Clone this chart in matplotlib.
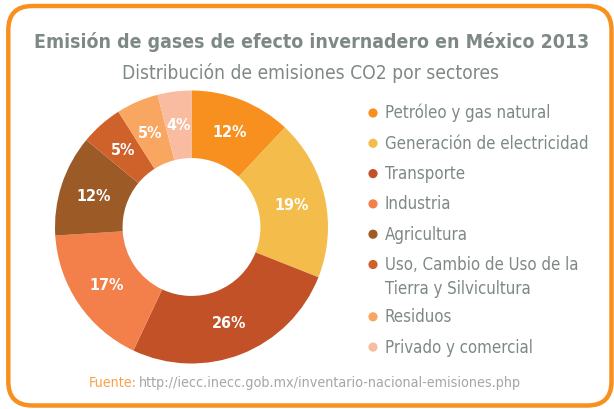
import matplotlib
matplotlib.use('Agg')
import numpy as np
import matplotlib.pyplot as plt
from matplotlib.patches import FancyBboxPatch
from matplotlib.transforms import IdentityTransform

# Datos
sectores = ['Petróleo y gas natural', 'Generación de electricidad', 'Transporte',
            'Industria', 'Agricultura', 'Uso, Cambio de Uso de la\nTierra y Silvicultura',
            'Residuos', 'Privado y comercial']
porcentajes = [12, 19, 26, 17, 12, 5, 5, 4]
colores = ['#F7901E', '#F4BC4B', '#C25127', '#F3804A', '#9C5A26', '#CF612B', '#F9A661', '#FABCA0']

titulo = 'Emisión de gases de efecto invernadero en México 2013'
subtitulo = 'Distribución de emisiones CO2 por sectores'
fuente_url = 'http://iecc.inecc.gob.mx/inventario-nacional-emisiones.php'

FONT = dict(family='DejaVu Sans', stretch='condensed')
GRIS = '#7E8984'

W, H = 614, 410
fig = plt.figure(figsize=(W / 100, H / 100), dpi=100)
renderer = fig.canvas.get_renderer()


def fit(t, ancho):
    """Ajusta el tamano de letra para que el texto mida 'ancho' pixeles."""
    w = t.get_window_extent(renderer).width
    t.set_fontsize(t.get_fontsize() * ancho / w)
    return t


# borde redondeado naranja (en pixeles, origen abajo a la izquierda)
x0, y0, x1, y1, rad = 8.3, 3.5, 611.5, 403, 24
borde = FancyBboxPatch((x0 + rad, y0 + rad), x1 - x0 - 2 * rad, y1 - y0 - 2 * rad,
                       boxstyle=f'round,pad={rad}', transform=IdentityTransform(),
                       facecolor='none', edgecolor='#F7901E', linewidth=3.2, zorder=10)
fig.add_artist(borde)

# titulos
t = fig.text(312 / W, 1 - 42 / H, titulo, ha='center', va='center', fontsize=16,
             color=GRIS, fontweight='bold', **FONT)
fit(t, 554)
t = fig.text(311 / W, 1 - 73 / H, subtitulo, ha='center', va='center', fontsize=13,
             color=GRIS, **FONT)
fit(t, 375)

# dona
cx, cy, r = 191.5, 228, 136.5
ax = fig.add_axes([(cx - r) / W, 1 - (cy + r) / H, 2 * r / W, 2 * r / H])
wedges, _ = ax.pie(porcentajes, colors=colores, startangle=90, counterclock=False,
                   wedgeprops=dict(width=0.495, linewidth=0))
for w, p in zip(wedges, porcentajes):
    ang = np.deg2rad((w.theta1 + w.theta2) / 2)
    ax.text(0.755 * np.cos(ang), 0.755 * np.sin(ang), f'{p}%', ha='center', va='center',
            color='white', fontsize=11.5, fontweight='bold', **FONT)
ax.set_xlim(-1, 1)
ax.set_ylim(-1, 1)
ax.axis('off')

# leyenda manual (cada linea como texto aparte)
textos = []
y = 114
for nombre, color in zip(sectores, colores):
    fig.add_artist(plt.Circle((373, H - y), 4.6, transform=IdentityTransform(),
                              color=color, linewidth=0))
    for i, linea in enumerate(nombre.split('\n')):
        t = fig.text(385 / W, 1 - (y + 4.5 + 24 * i) / H, linea, ha='left', va='baseline',
                     fontsize=12.5, color=GRIS, **FONT)
        textos.append(t)
    y += 30.3 + 22 * nombre.count('\n')
fit(textos[1], 205)
for t in textos:
    t.set_fontsize(textos[1].get_fontsize())

# fuente
t1 = fig.text(89 / W, 1 - 383 / H, 'Fuente:', ha='left', va='center', fontsize=10,
              color='#F7A24B', **FONT)
t2 = fig.text(139 / W, 1 - 383 / H, fuente_url, ha='left', va='center', fontsize=10,
              color='#A3A7A5', **FONT)
fit(t2, 380)
t1.set_fontsize(t2.get_fontsize())

fig.savefig('out.png', dpi=100)
